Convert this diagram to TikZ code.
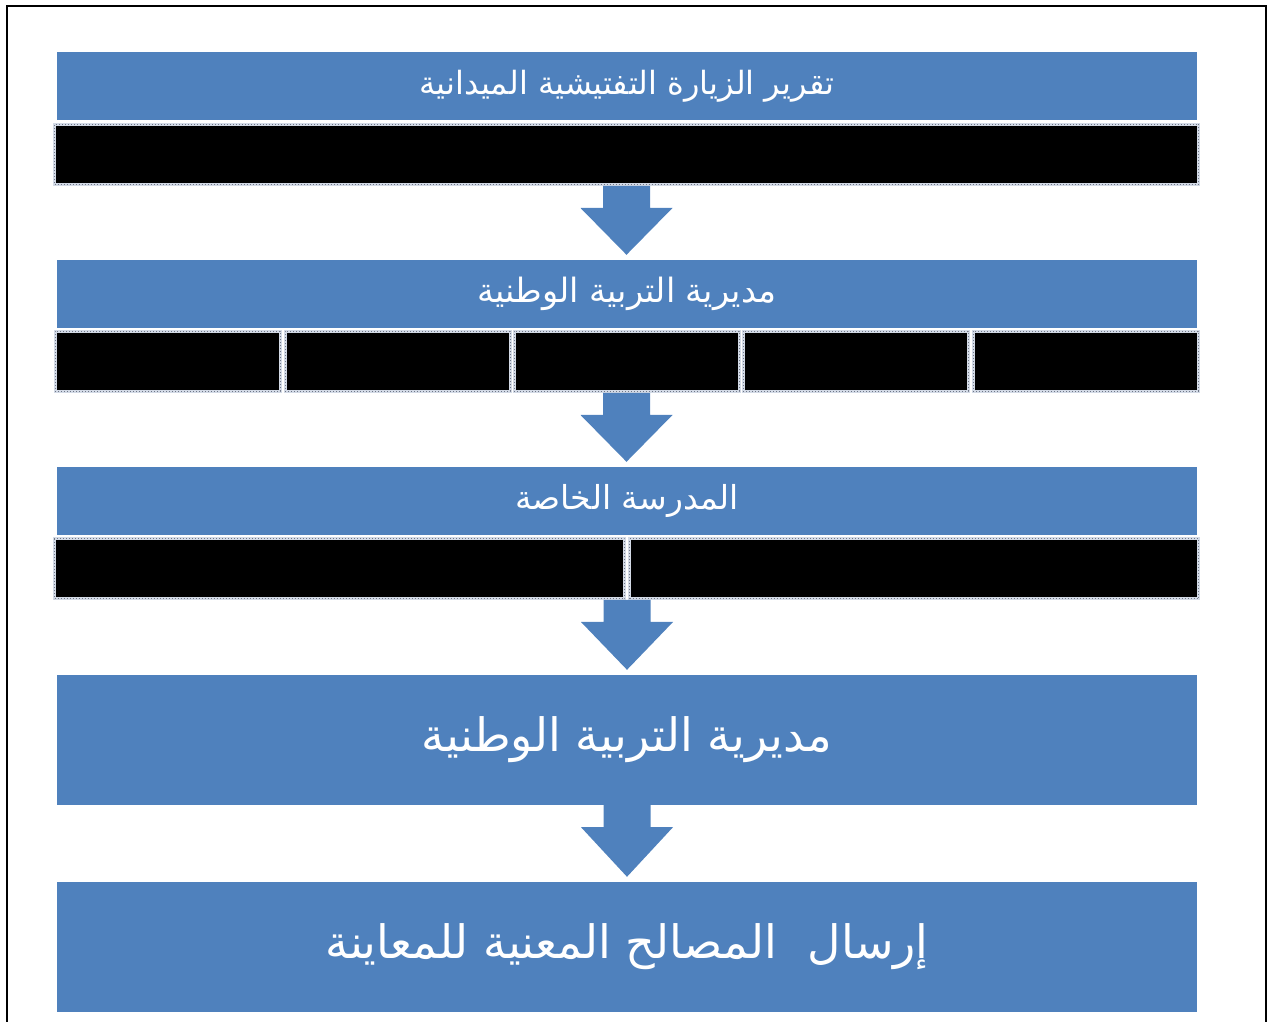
\documentclass[tikz,border=0pt]{standalone}
\usepackage{fontspec}
\TeXXeTstate=1
\newfontfamily\arabicfont[Script=Arabic]{DejaVu Sans}
\usetikzlibrary{calc}
\definecolor{boxblue}{HTML}{4F81BD}
\definecolor{barframe}{HTML}{D3DAE6}
\definecolor{bardots}{HTML}{6F7787}
\tikzset{
  bluebox/.style={fill=boxblue, draw=none, minimum width=1140pt, inner sep=0pt, text=white, font=\arabicfont\fontsize{32}{38}\selectfont},
  bigbox/.style={bluebox, minimum height=130pt, font=\arabicfont\fontsize{46}{54}\selectfont},
  smallbox/.style={bluebox, minimum height=68pt},
  blackbar/.style={fill=black, draw=barframe, line width=3pt, minimum height=60pt, inner sep=0pt,
     postaction={draw=bardots, line width=1pt, dotted}},
  flow/.style={fill=boxblue}
}
\newcommand{\flowarrow}[2]{%
  \fill[flow] let \p1=(#1), \p2=(#2.north) in
    (\x1-23.5pt,\y1) -- (\x1+23.5pt,\y1) -- (\x1+23.5pt,\y1-22pt) -- (\x1+46pt,\y1-22pt)
    -- (\x1,\y2+5pt) -- (\x1-46pt,\y1-22pt) -- (\x1-23.5pt,\y1-22pt) -- cycle;}
\begin{document}
\begin{tikzpicture}[x=1pt,y=1pt]
\useasboundingbox (0,0) rectangle (1270,1021);
\draw[line width=2pt] (7,-10) -- (7,1015) -- (1266,1015) -- (1266,-10);
% level 1
\node[smallbox] (b1) at (627,935) {\raisebox{4pt}{\beginR تقرير الزيارة التفتيشية الميدانية\endR}};
\node[blackbar, minimum width=1144pt] (r1) at (626.5,866.5) {};
% level 2
\node[smallbox, font=\arabicfont\fontsize{33.5}{38}\selectfont] (b2) at (627,727) {\raisebox{4pt}{\beginR مديرية التربية الوطنية\endR}};
\foreach \i/\cx in {1/167.5,2/397.5,3/626.5,4/855.5,5/1085.5}{
  \node[blackbar, minimum width=225pt] (r2c\i) at (\cx,659.5) {};
}
% level 3
\node[smallbox, font=\arabicfont\fontsize{33}{38}\selectfont] (b3) at (627,520) {\raisebox{4pt}{\beginR المدرسة الخاصة\endR}};
\node[blackbar, minimum width=570pt] (r3a) at (339.5,452) {};
\node[blackbar, minimum width=569pt] (r3b) at (914,452) {};
\coordinate (r3) at (627,421);
% level 4
\node[bigbox] (b4) at (627,281) {\beginR مديرية التربية الوطنية\endR};
% level 5
\node[bigbox] (b5) at (627,74) {\beginR إرسال\hspace{16pt} المصالح المعنية للمعاينة\endR};
% arrows
\flowarrow{r1.south}{b2}
\flowarrow{r2c3.south}{b3}
\flowarrow{r3}{b4}
\flowarrow{b4.south}{b5}
\end{tikzpicture}
\end{document}
